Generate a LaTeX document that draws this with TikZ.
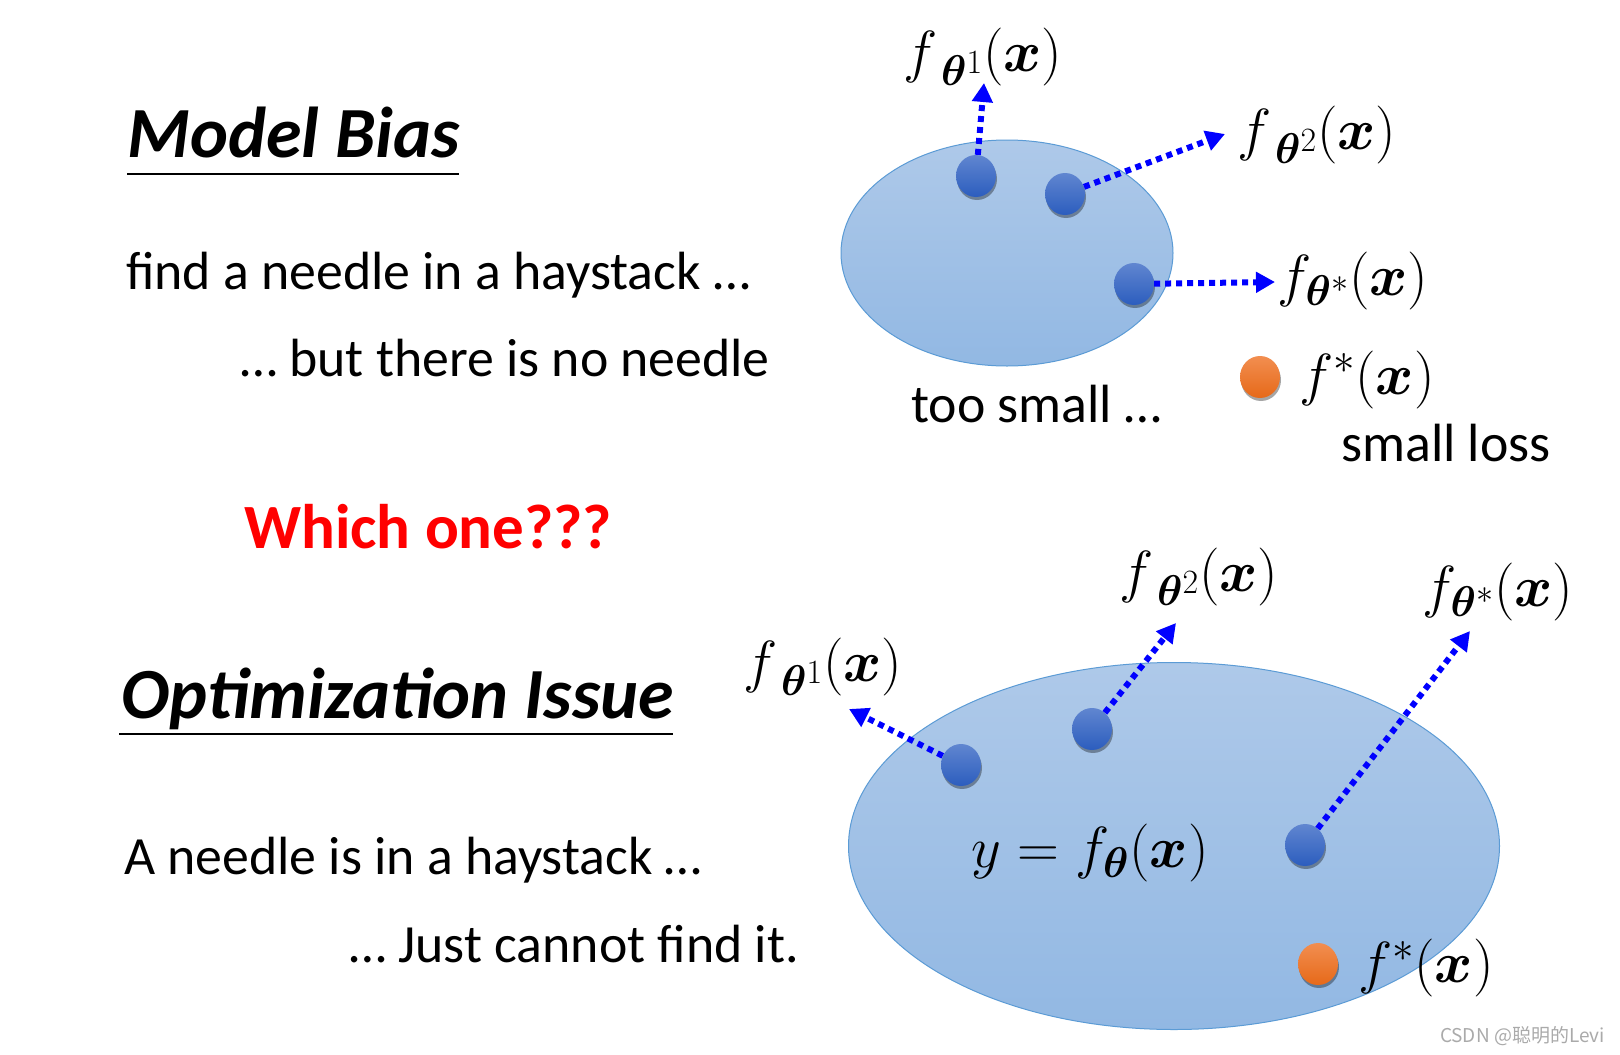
\documentclass[tikz,border=0pt]{standalone}
\usepackage{fix-cm}
\usepackage{amsmath,bm}
\usepackage{fontspec}
\setmainfont{Carlito}
\newfontfamily\cjkfont{Noto Sans CJK SC}
\usetikzlibrary{arrows.meta,shapes.geometric,shadows}
\DeclareMathSizes{58}{58}{43}{34}
\definecolor{regTop}{RGB}{174,201,233}
\definecolor{regBot}{RGB}{146,184,227}
\definecolor{regEdge}{RGB}{91,155,213}
\definecolor{dotTop}{RGB}{96,134,208}
\definecolor{dotBot}{RGB}{44,93,190}
\definecolor{orTop}{RGB}{242,142,80}
\definecolor{orBot}{RGB}{230,105,25}
\definecolor{wmgray}{RGB}{170,170,170}
\tikzset{
  body/.style={font=\fontsize{53.8}{60}\selectfont, anchor=base west, inner sep=0pt},
  titletext/.style={font=\fontsize{72}{78}\selectfont\bfseries\itshape, anchor=base west, inner sep=0pt},
  region/.style={ellipse, inner sep=0pt, draw=regEdge, line width=1pt, top color=regTop, bottom color=regBot},
  bdot/.style={ellipse, inner sep=0pt, minimum width=40pt, minimum height=42pt, top color=dotTop, bottom color=dotBot,
    drop shadow={shadow xshift=1pt, shadow yshift=-3pt, opacity=0.35, fill=black}},
  odot/.style={ellipse, inner sep=0pt, minimum width=40pt, minimum height=42pt, top color=orTop, bottom color=orBot,
    drop shadow={shadow xshift=1pt, shadow yshift=-3pt, opacity=0.35, fill=black}},
  arr/.style={draw=blue, line width=6pt, dash pattern=on 6pt off 5pt, -{Triangle[length=19pt,width=20pt,fill=blue]}},
  mlabel/.style={font=\fontsize{58}{58}\selectfont, inner sep=0pt}
}
\newcommand{\fsup}[1]{f_{\mkern4mu\bm{\theta}^{#1}}(\bm{x})}
\begin{document}
\begin{tikzpicture}[x=1pt,y=-1pt]
\useasboundingbox (0,0) rectangle (1620,1055);
\fill[white] (0,0) rectangle (1620,1055);

% left texts
\node[titletext] (t1) at (127,157) {Model Bias};
\draw[line width=2pt] ([yshift=-17pt]t1.base west) -- ([yshift=-17pt,xshift=-1pt]t1.base east);
\node[body] (b1) at (126,289) {find a needle in a haystack …};
\node[body] (b2) at (240,376) {… but there is no needle};
\node[body, font=\fontsize{63}{68}\selectfont\bfseries, text=red] (w) at (244,548) {Which one???};
\node[titletext] (t2) at (121,718) {Optimization Issue};
\draw[line width=2pt] ([yshift=-16pt,xshift=-2pt]t2.base west) -- ([yshift=-16pt,xshift=-1pt]t2.base east);
\node[body] (b3) at (124,874) {A needle is in a haystack …};
\node[body] (b4) at (349,962) {… Just cannot find it.};

% top region
\node[region, minimum width=332pt, minimum height=226pt] (r1) at (1007,253) {};
\node[bdot] (p1) at (976,176) {};
\node[bdot] (p2) at (1065,194) {};
\node[bdot] (p3) at (1134,284) {};
\coordinate (a1) at (984,83);
\coordinate (a2) at (1225,134);
\coordinate (a3) at (1275,282);
\draw[arr] (p1) -- (a1);
\draw[arr] (p2) -- (a2);
\draw[arr] (p3) -- (a3);
\node[mlabel] (l1) at (983,57) {$\fsup{1}$};
\node[mlabel] (l2) at (1317,135) {$\fsup{2}$};
\node[mlabel] (l3) at (1353,281) {$f_{\bm{\theta}^{*}}(\bm{x})$};
\node[odot] (o1) at (1260,377) {};
\node[mlabel] (l4) at (1367,380) {$f^{*}(\bm{x})$};
\node[body] (ts) at (911,422) {too small …};
\node[body] (sl) at (1341,461) {small loss};

% bottom region
\node[region, minimum width=651pt, minimum height=367pt] (r2) at (1174,846) {};
\node[bdot] (q1) at (961,765) {};
\node[bdot] (q2) at (1092,729) {};
\node[bdot] (q3) at (1305,845) {};
\node[odot] (o2) at (1318,964) {};
\coordinate (c1) at (849,709);
\coordinate (c2) at (1176,623);
\coordinate (c3) at (1470,631);
\draw[arr] (q1) -- (c1);
\draw[arr] (q2) -- (c2);
\draw[arr] (q3) -- (c3);
\node[mlabel] (m1) at (823,667) {$\fsup{1}$};
\node[mlabel] (m2) at (1199,577) {$\fsup{2}$};
\node[mlabel] (m3) at (1498,592) {$f_{\bm{\theta}^{*}}(\bm{x})$};
\node[mlabel] (m4) at (1090,853) {$y=f_{\bm{\theta}}(\bm{x})$};
\node[mlabel] (m5) at (1426,968) {$f^{*}(\bm{x})$};

% watermark
\node[font=\cjkfont\fontsize{19}{19}\selectfont, text=wmgray, anchor=east, inner sep=0pt] (wm) at (1605,1036) {CSDN @聪明的Levi};
\end{tikzpicture}
\end{document}
